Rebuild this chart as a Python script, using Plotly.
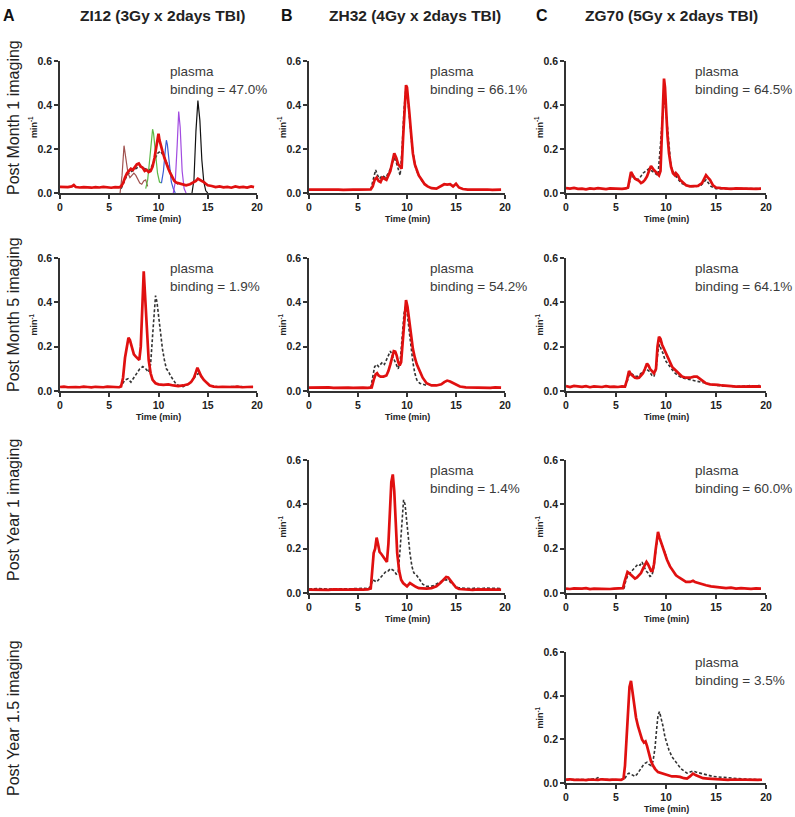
import plotly.graph_objects as go

# ---------------- data ----------------
col_titles = ["ZI12 (3Gy x 2days TBI)", "ZH32 (4Gy x 2days TBI)", "ZG70 (5Gy x 2days TBI)"]
col_letters = ["A", "B", "C"]
row_titles = ["Post Month 1 imaging", "Post Month 5 imaging", "Post Year 1 imaging", "Post Year 1.5 imaging"]
x_ticks = [0, 5, 10, 15, 20]
y_ticks = [0.0, 0.2, 0.4, 0.6]

# ZI12 Month 1
a1_red_t = [0,0.4,0.8,1.2,1.4,1.6,2.0,2.4,2.8,3.2,3.6,4.0,4.4,4.8,5.2,5.6,6.0,6.2,6.4,6.6,6.8,7.0,7.2,7.4,7.6,7.8,8.0,8.2,8.4,8.6,8.8,9.0,9.2,9.4,9.6,9.8,10.0,10.1,10.2,10.4,10.6,10.8,11.0,11.2,11.4,11.6,11.8,12.0,12.4,12.8,13.2,13.6,13.8,14.0,14.2,14.4,14.6,14.8,15.0,15.4,15.8,16.2,16.6,17.0,17.4,17.8,18.2,18.6,19.0,19.4,19.7]
a1_red_y = [0.028,0.026,0.027,0.030,0.036,0.027,0.025,0.027,0.026,0.024,0.027,0.025,0.028,0.026,0.024,0.027,0.026,0.030,0.045,0.070,0.090,0.100,0.110,0.105,0.120,0.130,0.134,0.120,0.115,0.100,0.105,0.095,0.100,0.120,0.160,0.210,0.270,0.240,0.220,0.190,0.160,0.130,0.110,0.090,0.070,0.055,0.048,0.045,0.040,0.035,0.040,0.050,0.055,0.065,0.060,0.058,0.050,0.042,0.035,0.032,0.027,0.030,0.026,0.028,0.024,0.030,0.026,0.028,0.025,0.030,0.027]
a1_dash_t = [6.2,6.5,6.8,7.0,7.3,7.6,8.0,8.3,8.6,9.0,9.3,9.6,9.9,10.2,10.5,10.8,11.1,11.4,11.7,12.0]
a1_dash_y = [0.020,0.050,0.080,0.090,0.100,0.110,0.120,0.120,0.110,0.100,0.120,0.150,0.180,0.190,0.170,0.140,0.100,0.070,0.050,0.040]
std_brown_t = [6.1,6.3,6.5,6.7,6.9,7.1,7.3,7.5,7.7,7.9,8.1,8.3,8.5,8.7,8.9]
std_brown_y = [0.0,0.08,0.215,0.15,0.09,0.07,0.08,0.09,0.08,0.06,0.045,0.04,0.055,0.06,0.03]
std_green_t = [8.7,8.9,9.1,9.3,9.4,9.5,9.7,9.9,10.1,10.3]
std_green_y = [0.02,0.06,0.15,0.26,0.29,0.27,0.18,0.09,0.05,0.045]
std_blue_t = [10.3,10.5,10.7,10.8,10.9,11.1,11.3,11.5,11.7]
std_blue_y = [0.045,0.10,0.20,0.24,0.22,0.12,0.05,0.02,0.0]
std_purple_t = [11.5,11.7,11.9,12.05,12.2,12.4,12.6,12.8]
std_purple_y = [0.0,0.05,0.22,0.37,0.30,0.10,0.02,0.0]
std_black_t = [13.4,13.6,13.8,14.0,14.2,14.4,14.6,14.8,15.0]
std_black_y = [0.0,0.06,0.28,0.42,0.33,0.15,0.05,0.01,0.0]

# ZH32 Month 1
b1_red_t = [0,0.5,1,1.5,2,2.5,3,3.5,4,4.5,5,5.5,6,6.3,6.5,6.7,6.9,7.1,7.3,7.5,7.7,7.9,8.1,8.3,8.5,8.7,8.9,9.1,9.3,9.45,9.6,9.75,9.9,10.0,10.1,10.25,10.4,10.6,10.8,11.0,11.2,11.5,11.8,12.1,12.5,13.0,13.5,13.8,14.1,14.4,14.7,15.0,15.3,15.7,16.2,16.7,17.2,17.7,18.2,18.7,19.2,19.6]
b1_red_y = [0.015,0.016,0.014,0.016,0.015,0.016,0.015,0.014,0.016,0.015,0.015,0.016,0.015,0.016,0.030,0.060,0.070,0.055,0.050,0.070,0.065,0.060,0.080,0.100,0.140,0.180,0.160,0.130,0.120,0.110,0.250,0.400,0.490,0.480,0.440,0.360,0.280,0.180,0.130,0.100,0.080,0.060,0.040,0.030,0.022,0.020,0.035,0.040,0.038,0.040,0.030,0.042,0.025,0.018,0.015,0.016,0.014,0.015,0.016,0.014,0.015,0.015]
b1_dash_t = [6.3,6.5,6.7,6.8,7.0,7.2,7.5,7.8,8.1,8.4,8.7,8.9,9.1,9.3,9.5,9.7,9.9,10.1,10.3,10.5,10.7,10.9,11.2,11.6]
b1_dash_y = [0.016,0.050,0.090,0.105,0.080,0.065,0.080,0.070,0.090,0.120,0.160,0.140,0.110,0.080,0.200,0.380,0.480,0.420,0.320,0.220,0.160,0.110,0.080,0.050]

# ZG70 Month 1
c1_red_t = [0,0.4,0.8,1.2,1.6,2.0,2.4,2.8,3.2,3.6,4.0,4.4,4.8,5.2,5.6,6.0,6.2,6.35,6.5,6.7,6.9,7.1,7.3,7.5,7.7,7.9,8.1,8.3,8.5,8.7,8.9,9.1,9.3,9.45,9.6,9.7,9.8,9.9,10.0,10.15,10.3,10.5,10.7,10.9,11.0,11.2,11.4,11.7,12.0,12.4,12.8,13.2,13.6,13.8,14.0,14.2,14.4,14.7,15.0,15.5,16.0,16.5,17.0,17.5,18.0,18.5,19.0,19.5]
c1_red_y = [0.022,0.020,0.023,0.019,0.020,0.017,0.021,0.019,0.022,0.020,0.018,0.021,0.020,0.022,0.019,0.021,0.025,0.060,0.096,0.080,0.065,0.060,0.055,0.045,0.050,0.060,0.075,0.100,0.123,0.110,0.100,0.085,0.080,0.100,0.300,0.450,0.520,0.480,0.380,0.260,0.180,0.120,0.090,0.080,0.090,0.080,0.060,0.045,0.035,0.030,0.030,0.032,0.045,0.060,0.081,0.070,0.060,0.035,0.025,0.022,0.020,0.019,0.021,0.020,0.018,0.020,0.019,0.020]
c1_dash_t = [6.2,6.5,6.8,7.1,7.4,7.7,8.0,8.3,8.6,8.9,9.2,9.5,9.7,9.9,10.1,10.3,10.5,10.8,11.1,11.5,12,12.5,13,13.5,14,14.5,15,16,17,18,19.5]
c1_dash_y = [0.020,0.080,0.070,0.060,0.070,0.090,0.100,0.110,0.100,0.090,0.080,0.250,0.380,0.420,0.320,0.200,0.120,0.090,0.070,0.045,0.035,0.030,0.030,0.035,0.060,0.030,0.020,0.020,0.020,0.018,0.020]

# ZI12 Month 5
a2_red_t = [0,0.4,0.8,1.2,1.6,2.0,2.4,2.8,3.2,3.6,4.0,4.4,4.8,5.2,5.6,6.0,6.2,6.4,6.6,6.8,6.95,7.1,7.3,7.5,7.7,7.9,8.05,8.2,8.35,8.5,8.65,8.8,9.0,9.2,9.4,9.7,10.0,10.5,11.0,11.5,12.0,12.5,13.0,13.3,13.6,13.8,13.95,14.1,14.3,14.6,14.9,15.2,15.6,16.0,16.5,17.0,17.5,18.0,18.5,19.0,19.6]
a2_red_y = [0.018,0.020,0.017,0.019,0.018,0.017,0.020,0.018,0.016,0.019,0.018,0.017,0.020,0.018,0.019,0.017,0.020,0.060,0.150,0.210,0.240,0.230,0.190,0.165,0.155,0.145,0.140,0.200,0.400,0.540,0.420,0.280,0.140,0.080,0.050,0.035,0.030,0.028,0.030,0.025,0.022,0.025,0.030,0.040,0.060,0.085,0.105,0.090,0.070,0.050,0.035,0.025,0.020,0.018,0.019,0.017,0.018,0.020,0.017,0.018,0.019]
a2_dash_t = [6.0,6.3,6.6,6.9,7.2,7.5,7.8,8.1,8.4,8.7,9.0,9.2,9.4,9.55,9.7,9.85,10.0,10.2,10.4,10.6,10.8,11.0,11.2,11.5,11.8,12.1,12.5,13.0,13.4,13.8,14.1,14.4,14.8,15.2,15.8,16.5,17.5,18.5,19.6]
a2_dash_y = [0.018,0.030,0.050,0.055,0.040,0.060,0.080,0.100,0.110,0.100,0.085,0.120,0.250,0.360,0.430,0.400,0.340,0.260,0.190,0.140,0.100,0.090,0.070,0.050,0.030,0.025,0.020,0.030,0.045,0.070,0.080,0.060,0.040,0.025,0.020,0.018,0.020,0.018,0.019]

# ZH32 Month 5
b2_red_t = [0,0.5,1,1.5,2,2.5,3,3.5,4,4.5,5,5.5,6,6.4,6.6,6.8,6.95,7.1,7.3,7.6,7.9,8.1,8.3,8.5,8.65,8.8,8.95,9.1,9.25,9.4,9.6,9.75,9.9,10.05,10.2,10.4,10.6,10.8,11.0,11.3,11.6,12.0,12.5,13.0,13.5,13.8,14.1,14.4,14.7,15.0,15.4,16.0,16.5,17,17.5,18,18.5,19,19.6]
b2_red_y = [0.015,0.016,0.014,0.015,0.016,0.014,0.015,0.016,0.015,0.014,0.016,0.015,0.014,0.016,0.050,0.075,0.080,0.070,0.065,0.065,0.070,0.090,0.120,0.160,0.180,0.178,0.160,0.130,0.115,0.130,0.250,0.340,0.410,0.380,0.330,0.250,0.190,0.150,0.120,0.090,0.060,0.035,0.025,0.025,0.030,0.040,0.047,0.043,0.035,0.028,0.020,0.016,0.015,0.014,0.016,0.015,0.014,0.016,0.015]
b2_dash_t = [6.3,6.5,6.7,6.9,7.1,7.3,7.5,7.7,7.9,8.1,8.3,8.5,8.7,8.9,9.1,9.3,9.5,9.7,9.85,10.0,10.2,10.4,10.6,10.8,11.0,11.3,11.6,12.0]
b2_dash_y = [0.015,0.070,0.110,0.120,0.110,0.120,0.130,0.120,0.140,0.160,0.180,0.160,0.140,0.120,0.100,0.130,0.250,0.350,0.380,0.360,0.280,0.200,0.130,0.080,0.050,0.035,0.030,0.025]

# ZG70 Month 5
c2_red_t = [0,0.4,0.8,1.2,1.6,2.0,2.4,2.8,3.2,3.6,4.0,4.4,4.8,5.2,5.6,5.9,6.1,6.3,6.5,6.7,6.9,7.1,7.3,7.5,7.7,7.9,8.1,8.25,8.4,8.6,8.8,9.0,9.15,9.3,9.45,9.6,9.8,10.0,10.2,10.4,10.6,10.8,11.0,11.3,11.6,12.0,12.4,12.8,13.1,13.4,13.7,14.0,14.4,14.8,15.2,15.6,16.0,16.5,17.0,17.5,18.0,18.5,19.0,19.5]
c2_red_y = [0.022,0.018,0.023,0.020,0.019,0.022,0.017,0.021,0.020,0.018,0.022,0.019,0.020,0.018,0.021,0.020,0.050,0.090,0.075,0.065,0.060,0.058,0.060,0.070,0.080,0.100,0.124,0.115,0.100,0.090,0.080,0.100,0.200,0.245,0.235,0.210,0.190,0.170,0.150,0.130,0.110,0.100,0.090,0.075,0.065,0.060,0.060,0.065,0.065,0.055,0.045,0.035,0.030,0.030,0.028,0.025,0.025,0.022,0.020,0.021,0.019,0.020,0.021,0.020]
c2_dash_t = [5.9,6.1,6.3,6.5,6.8,7.1,7.4,7.7,8.0,8.3,8.6,8.8,9.0,9.2,9.35,9.5,9.7,9.9,10.2,10.5,10.8,11.2,11.6,12.0,12.5,13.0,13.5,14.0,14.5,15.0,16.0,17.0,18.0,18.5,19.0,19.5]
c2_dash_y = [0.020,0.040,0.070,0.080,0.070,0.065,0.075,0.090,0.100,0.090,0.070,0.065,0.100,0.180,0.210,0.190,0.170,0.140,0.120,0.100,0.085,0.070,0.060,0.055,0.050,0.045,0.040,0.035,0.030,0.025,0.022,0.020,0.022,0.025,0.020,0.028]

# ZH32 Year 1
b3_red_t = [0,0.5,1,1.5,2,2.5,3,3.5,4,4.5,5,5.5,6,6.3,6.45,6.6,6.75,6.9,7.05,7.2,7.4,7.6,7.8,7.95,8.1,8.25,8.4,8.55,8.7,8.85,9.0,9.2,9.4,9.6,9.8,10.0,10.3,10.6,10.9,11.2,11.6,12.0,12.5,13.0,13.4,13.7,14.0,14.2,14.4,14.7,15.0,15.3,15.7,16.2,16.7,17.2,17.7,18.2,18.7,19.2,19.6]
b3_red_y = [0.015,0.014,0.016,0.015,0.014,0.016,0.015,0.013,0.015,0.016,0.014,0.015,0.016,0.020,0.100,0.180,0.200,0.250,0.220,0.185,0.175,0.160,0.145,0.140,0.220,0.380,0.500,0.535,0.460,0.320,0.180,0.100,0.060,0.045,0.035,0.030,0.045,0.035,0.028,0.022,0.020,0.020,0.022,0.030,0.045,0.060,0.072,0.070,0.060,0.040,0.025,0.018,0.016,0.015,0.014,0.016,0.015,0.014,0.016,0.015,0.015]
b3_dash_t = [0,1,2,3,4,5,5.5,6,6.3,6.5,6.7,6.9,7.1,7.3,7.5,7.7,7.9,8.1,8.3,8.5,8.7,8.9,9.1,9.3,9.5,9.65,9.8,9.95,10.1,10.3,10.5,10.7,10.9,11.1,11.3,11.6,12.0,12.4,12.8,13.2,13.6,14.0,14.4,14.8,15.2,15.6,16.0,16.5,17,17.5,18,18.5,19,19.6]
b3_dash_y = [0.018,0.020,0.018,0.020,0.019,0.020,0.022,0.020,0.030,0.060,0.055,0.050,0.060,0.070,0.080,0.090,0.100,0.100,0.110,0.105,0.100,0.085,0.090,0.200,0.330,0.420,0.400,0.330,0.260,0.180,0.120,0.090,0.085,0.075,0.060,0.040,0.030,0.030,0.035,0.045,0.055,0.060,0.050,0.035,0.025,0.022,0.020,0.020,0.022,0.020,0.022,0.020,0.021,0.020]

# ZG70 Year 1
c3_red_t = [0,0.4,0.8,1.2,1.6,2.0,2.4,2.8,3.2,3.6,4.0,4.4,4.8,5.2,5.5,5.7,5.85,6.0,6.15,6.3,6.5,6.7,6.9,7.1,7.3,7.5,7.7,7.9,8.05,8.2,8.35,8.5,8.65,8.8,8.95,9.1,9.2,9.35,9.5,9.7,9.9,10.1,10.4,10.7,11.0,11.3,11.6,12.0,12.4,12.7,12.9,13.2,13.6,14.0,14.5,15.0,15.5,16.0,16.5,17.0,17.5,18.0,18.5,19.0,19.5]
c3_red_y = [0.020,0.018,0.021,0.019,0.020,0.022,0.018,0.020,0.019,0.021,0.020,0.018,0.020,0.021,0.020,0.022,0.050,0.080,0.095,0.090,0.080,0.070,0.065,0.070,0.080,0.090,0.110,0.130,0.140,0.130,0.110,0.100,0.100,0.130,0.190,0.260,0.276,0.250,0.230,0.200,0.180,0.150,0.120,0.100,0.080,0.070,0.060,0.050,0.050,0.055,0.050,0.045,0.040,0.035,0.030,0.028,0.025,0.022,0.024,0.020,0.022,0.020,0.019,0.021,0.020]
c3_dash_t = [5.8,6.0,6.2,6.4,6.6,6.8,7.0,7.2,7.4,7.6,7.8,8.0,8.2,8.4,8.6,8.8,9.0,9.2,9.4,9.7,10.0]
c3_dash_y = [0.020,0.060,0.080,0.090,0.100,0.110,0.120,0.130,0.125,0.140,0.120,0.100,0.090,0.075,0.080,0.120,0.200,0.260,0.240,0.200,0.170]

# ZG70 Year 1.5
c4_red_t = [0,0.4,0.8,1.2,1.6,2.0,2.4,2.8,3.2,3.6,4.0,4.4,4.8,5.2,5.5,5.75,5.9,6.05,6.2,6.35,6.5,6.65,6.8,7.0,7.2,7.4,7.6,7.8,7.95,8.1,8.3,8.5,8.7,8.9,9.2,9.5,9.8,10.2,10.6,11.0,11.4,11.8,12.1,12.4,12.7,13.0,13.3,13.7,14.2,14.7,15.2,15.7,16.2,16.7,17.2,17.7,18.2,18.7,19.2,19.6]
c4_red_y = [0.015,0.017,0.014,0.016,0.015,0.013,0.016,0.015,0.014,0.017,0.015,0.014,0.016,0.015,0.014,0.020,0.080,0.200,0.330,0.440,0.468,0.420,0.350,0.300,0.260,0.230,0.200,0.185,0.190,0.170,0.130,0.100,0.080,0.065,0.050,0.045,0.040,0.035,0.030,0.030,0.028,0.022,0.020,0.030,0.043,0.035,0.028,0.022,0.020,0.018,0.016,0.015,0.014,0.016,0.015,0.014,0.016,0.015,0.014,0.015]
c4_dash_t = [0,0.5,1,1.5,2,2.5,3,3.2,3.5,4,4.5,5,5.5,5.9,6.1,6.3,6.5,6.7,6.9,7.1,7.3,7.5,7.7,7.9,8.1,8.3,8.5,8.7,8.9,9.05,9.2,9.35,9.5,9.7,9.9,10.1,10.3,10.6,10.9,11.2,11.5,11.8,12.1,12.4,12.7,13.0,13.4,13.8,14.2,14.7,15.2,15.8,16.5,17.2,18.0,18.8,19.6]
c4_dash_y = [0.015,0.016,0.015,0.016,0.015,0.016,0.020,0.025,0.018,0.016,0.015,0.016,0.015,0.020,0.040,0.045,0.040,0.035,0.030,0.040,0.055,0.065,0.080,0.090,0.095,0.085,0.080,0.100,0.160,0.240,0.310,0.327,0.300,0.260,0.210,0.180,0.150,0.120,0.100,0.080,0.065,0.055,0.045,0.050,0.055,0.050,0.045,0.040,0.035,0.030,0.028,0.025,0.022,0.020,0.018,0.018,0.015]

binding = {(0, 0): "47.0%", (0, 1): "66.1%", (0, 2): "64.5%",
           (1, 0): "1.9%", (1, 1): "54.2%", (1, 2): "64.1%",
           (2, 1): "1.4%", (2, 2): "60.0%",
           (3, 2): "3.5%"}

panel_data = {
    (0, 0): (a1_red_t, a1_red_y, a1_dash_t, a1_dash_y),
    (0, 1): (b1_red_t, b1_red_y, b1_dash_t, b1_dash_y),
    (0, 2): (c1_red_t, c1_red_y, c1_dash_t, c1_dash_y),
    (1, 0): (a2_red_t, a2_red_y, a2_dash_t, a2_dash_y),
    (1, 1): (b2_red_t, b2_red_y, b2_dash_t, b2_dash_y),
    (1, 2): (c2_red_t, c2_red_y, c2_dash_t, c2_dash_y),
    (2, 1): (b3_red_t, b3_red_y, b3_dash_t, b3_dash_y),
    (2, 2): (c3_red_t, c3_red_y, c3_dash_t, c3_dash_y),
    (3, 2): (c4_red_t, c4_red_y, c4_dash_t, c4_dash_y),
}

standards = [
    (std_brown_t, std_brown_y, "#a0524f"),
    (std_green_t, std_green_y, "#5cb845"),
    (std_blue_t, std_blue_y, "#3b5bd6"),
    (std_purple_t, std_purple_y, "#a14be0"),
    (std_black_t, std_black_y, "#111111"),
]

# ---------------- layout geometry (pixels) ----------------
W, H = 795, 817
col_px = [(60, 257), (309, 505), (566, 766)]
row_px = [(61, 193), (258, 391), (460, 593), (652, 783)]  # (top, bottom)
ann_x_px = [168, 428, 693]
header_cx = [162, 415, 671]
letter_x = [9, 287, 542]
row_label_cy = [118, 315, 510, 718]

def px(x):
    return x / W

def py(y):
    return 1 - y / H

fig = go.Figure()
annotations = []
RED = "#e01010"
AXC = "#333333"
FONT = "Arial"

for idx, ((r, c), (rt, ry, dt, dy)) in enumerate(panel_data.items()):
    n = idx + 1
    xa = "x" if n == 1 else f"x{n}"
    ya = "y" if n == 1 else f"y{n}"
    fig.add_trace(go.Scatter(x=dt, y=dy, mode="lines", xaxis=xa, yaxis=ya,
                             line=dict(color="#333333", width=1.6, dash="3px,2px"), showlegend=False))
    if (r, c) == (0, 0):
        for st, sy, scol in standards:
            fig.add_trace(go.Scatter(x=st, y=sy, mode="lines", xaxis=xa, yaxis=ya,
                                     line=dict(color=scol, width=1.2), showlegend=False))
    fig.add_trace(go.Scatter(x=rt, y=ry, mode="lines", xaxis=xa, yaxis=ya,
                             line=dict(color=RED, width=2.7), showlegend=False))

    x0, x1 = col_px[c]
    top, bot = row_px[r]
    axis_common = dict(showline=True, linecolor=AXC, linewidth=1.5, ticks="outside", ticklen=4,
                       tickwidth=1.5, tickcolor=AXC, showgrid=False, zeroline=False,
                       automargin=False,
                       tickfont=dict(family=FONT, size=10.5, color="#222222", weight="bold"),
                       fixedrange=True)
    fig.layout[("xaxis" if n == 1 else f"xaxis{n}")] = dict(
        domain=[px(x0), px(x1)], range=[0, 20], tickvals=x_ticks, anchor=ya, **axis_common)
    fig.layout[("yaxis" if n == 1 else f"yaxis{n}")] = dict(
        domain=[py(bot), py(top)], range=[0, 0.6], tickvals=y_ticks,
        ticktext=[f"{v:.1f}" for v in y_ticks], anchor=xa, **axis_common)

    annotations.append(dict(xref="paper", yref="paper", x=px(ann_x_px[c]), y=py(top + 1),
                            xanchor="left", yanchor="top", align="left", showarrow=False,
                            text=f"plasma<br>binding = {binding[(r, c)]}",
                            font=dict(family=FONT, size=13.5, color="#3a3a3a")))
    annotations.append(dict(xref="paper", yref="paper", x=px(x0 - 27), y=py((top + bot) / 2),
                            xanchor="center", yanchor="middle", textangle=-90, showarrow=False,
                            text="<b>min<sup>-1</sup></b>",
                            font=dict(family=FONT, size=9, color="#222222")))
    annotations.append(dict(xref="paper", yref="paper", x=px((x0 + x1) / 2), y=py(bot + 26),
                            xanchor="center", yanchor="middle", showarrow=False,
                            text="<b>Time (min)</b>",
                            font=dict(family=FONT, size=9, color="#222222")))

for c in range(3):
    annotations.append(dict(xref="paper", yref="paper", x=px(header_cx[c]), y=py(15),
                            xanchor="center", yanchor="middle", showarrow=False,
                            text=f"<b>{col_titles[c]}</b>",
                            font=dict(family=FONT, size=15.5, color="#222222")))
    annotations.append(dict(xref="paper", yref="paper", x=px(letter_x[c]), y=py(15),
                            xanchor="center", yanchor="middle", showarrow=False,
                            text=f"<b>{col_letters[c]}</b>",
                            font=dict(family=FONT, size=16, color="#111111")))
for r in range(4):
    annotations.append(dict(xref="paper", yref="paper", x=px(13), y=py(row_label_cy[r]),
                            xanchor="center", yanchor="middle", textangle=-90, showarrow=False,
                            text=row_titles[r],
                            font=dict(family=FONT, size=16, color="#222222")))

fig.update_layout(width=W, height=H, template="none",
                  margin=dict(l=0, r=0, t=0, b=0, pad=0, autoexpand=False),
                  paper_bgcolor="white", plot_bgcolor="white",
                  annotations=annotations, showlegend=False)

fig.write_html("out.html", config={"displayModeBar": False},
               post_script="document.body.style.margin='0';document.body.style.overflow='hidden';")
